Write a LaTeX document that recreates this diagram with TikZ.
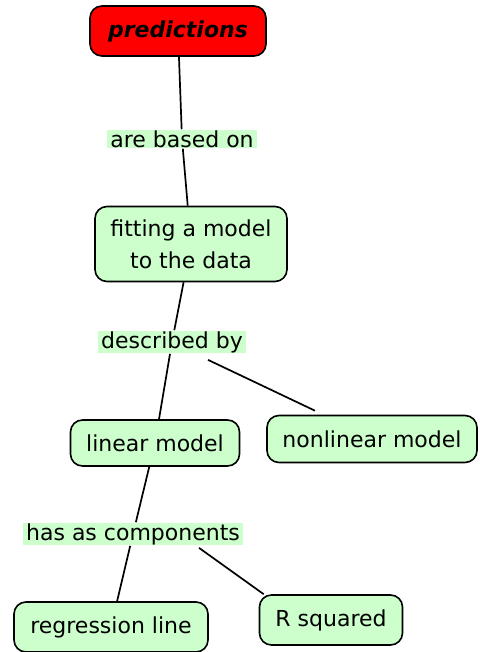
\documentclass[tikz,border=0pt]{standalone}
\usepackage{fontspec}
\setmainfont{DejaVu Sans}
\definecolor{mintfill}{RGB}{204,255,204}
\definecolor{predred}{RGB}{255,0,0}

\begin{document}
\begin{tikzpicture}[x=0.5pt,y=-0.5pt,font=\fontsize{11}{16}\selectfont]
 \tikzstyle{concept} = [draw=black,thick,fill=mintfill,rounded corners=6pt,align=center,inner sep=2pt]
 \tikzstyle{linkword} = [fill=mintfill,inner xsep=1.5pt,inner ysep=0.4pt]
 \tikzstyle{link} = [line width=0.85pt]

  \useasboundingbox (0,0) rectangle (479,652);

  % Concepts
  \node[concept,fill=predred,minimum width=88pt,minimum height=25pt,font=\fontsize{11}{16}\selectfont\bfseries\itshape] (pred) at (178,31) {predictions};
  \node[concept,minimum width=96pt,minimum height=37.5pt] (fit) at (191,244) {fitting a model\\to the data};
  \node[concept,minimum width=84.5pt,minimum height=23pt] (lin) at (155,443) {linear model};
  \node[concept,minimum width=105pt,minimum height=23.5pt] (nonlin) at (372,439) {nonlinear model};
  \node[concept,minimum width=97pt,minimum height=25pt] (regr) at (111,627) {regression line};
  \node[concept,minimum width=71.5pt,minimum height=25pt] (rsq) at (331,620) {R squared};

  % Linking words
  \node[linkword] (based) at (182,139) {are based on};
  \node[linkword] (descr) at (172,342) {described by};
  \node[linkword] (comp) at (133,534) {has as components};

  % Connectors
  \draw[link] (pred) -- (based);
  \draw[link] (based) -- (fit);
  \draw[link] (fit) -- (descr);
  \draw[link] (descr) -- (lin);
  \draw[link] ([xshift=18pt,yshift=-3pt]descr.south) -- ([xshift=-28.5pt,yshift=2pt]nonlin.north);
  \draw[link] (lin) -- (comp);
  \draw[link] (comp) -- (regr);
  \draw[link] ([xshift=33pt,yshift=-1pt]comp.south) -- ([xshift=2.5pt]rsq.north west);

\end{tikzpicture}
\end{document}
